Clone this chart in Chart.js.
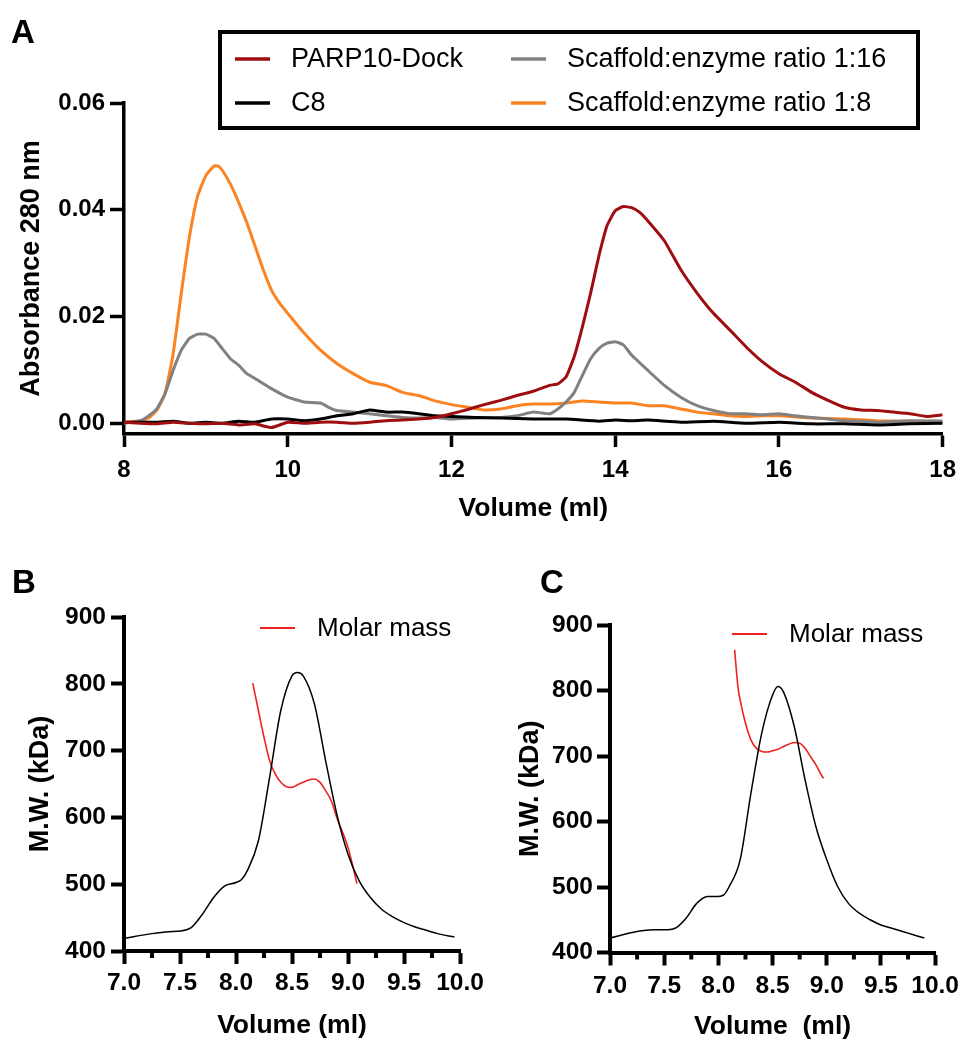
<!DOCTYPE html>
<html><head><meta charset="utf-8">
<script src="https://cdn.jsdelivr.net/npm/chart.js@4.4.1/dist/chart.umd.min.js"></script>
<style>
html,body{margin:0;padding:0;background:#fff;overflow:hidden;width:965px;height:1040px;}
.pane{position:absolute;}
</style></head><body>
<div class="pane" style="left:0;top:0;width:965px;height:540px"><canvas id="cA"></canvas></div>
<div class="pane" style="left:0;top:540px;width:540px;height:500px"><canvas id="cB"></canvas></div>
<div class="pane" style="left:480px;top:540px;width:485px;height:500px"><canvas id="cC"></canvas></div>
<script>
// ---------------- Panel A data ----------------
const seriesNamesA = ['PARP10-Dock', 'C8', 'Scaffold:enzyme ratio 1:16', 'Scaffold:enzyme ratio 1:8'];
const parpX = [8.0,8.2,8.4,8.6,8.8,9.0,9.2,9.4,9.6,9.8,10.0,10.2,10.4,10.6,10.8,11.0,11.2,11.4,11.6,11.8,12.0,12.2,12.4,12.6,12.8,13.0,13.2,13.3,13.4,13.5,13.6,13.7,13.8,13.9,14.0,14.1,14.2,14.3,14.4,14.6,14.8,15.0,15.2,15.4,15.6,15.8,16.0,16.2,16.4,16.6,16.8,17.0,17.2,17.4,17.6,17.8,18.0];
const parpY = [0.0002,0,-0.0001,0.0002,0,-0.0001,0,-0.0003,-0.0001,-0.0008,0.0002,0,0.0002,0.0002,0,0.0002,0.0005,0.0006,0.0008,0.0011,0.0018,0.0026,0.0035,0.0043,0.0052,0.006,0.0071,0.0074,0.0087,0.0125,0.0181,0.0244,0.0313,0.037,0.0398,0.0406,0.0404,0.0395,0.0379,0.0342,0.0288,0.0244,0.0206,0.0175,0.0143,0.0115,0.0093,0.0077,0.0058,0.0043,0.003,0.0025,0.0024,0.0021,0.0018,0.0013,0.0016];
const c8X = [8.0,8.4,8.6,8.8,9.0,9.2,9.4,9.6,9.8,10.0,10.2,10.4,10.6,10.8,11.0,11.2,11.4,11.6,11.8,12.0,12.3,12.6,13.0,13.4,13.8,14.0,14.2,14.4,14.8,15.2,15.6,16.0,16.4,16.8,17.2,17.6,18.0];
const c8Y = [0.0002,0.0002,0.0004,0,0.0002,0,0.0004,0.0002,0.0008,0.0008,0.0005,0.0008,0.0014,0.0018,0.0025,0.0021,0.0021,0.0018,0.0014,0.0013,0.0011,0.001,0.0008,0.0008,0.0004,0.0006,0.0005,0.0006,0.0002,0.0004,0,0.0002,-0.0001,-0.0001,-0.0003,-0.0001,0];
const r16X = [8.0,8.2,8.3,8.4,8.5,8.6,8.7,8.8,8.9,9.0,9.1,9.2,9.3,9.4,9.5,9.6,9.8,10.0,10.2,10.4,10.5,10.6,10.8,11.0,11.2,11.4,11.6,11.8,12.0,12.3,12.6,12.8,13.0,13.2,13.3,13.4,13.5,13.6,13.7,13.8,13.9,14.0,14.1,14.2,14.4,14.6,14.8,15.0,15.2,15.4,15.6,15.8,16.0,16.2,16.4,16.6,16.8,17.0,17.2,17.6,18.0];
const r16Y = [0,0.0005,0.0014,0.0027,0.0055,0.0099,0.0137,0.0159,0.0167,0.0167,0.0159,0.014,0.0121,0.0109,0.0093,0.0084,0.0065,0.0049,0.004,0.0038,0.003,0.0024,0.0021,0.0018,0.0014,0.0011,0.001,0.0011,0.0008,0.001,0.0011,0.0014,0.0021,0.0018,0.0027,0.004,0.0058,0.009,0.0121,0.014,0.015,0.0153,0.0147,0.0128,0.0099,0.0071,0.0049,0.0033,0.0024,0.0018,0.0018,0.0016,0.0018,0.0014,0.0011,0.0008,0.0005,0.0004,0.0002,0.0005,0.0004];
const r8X = [8.0,8.2,8.3,8.4,8.5,8.6,8.7,8.8,8.9,9.0,9.1,9.15,9.2,9.3,9.4,9.5,9.6,9.7,9.8,9.9,10.0,10.2,10.4,10.6,10.8,11.0,11.2,11.4,11.6,11.8,12.0,12.2,12.4,12.6,12.8,13.0,13.2,13.4,13.6,13.8,14.0,14.2,14.4,14.6,14.8,15.0,15.2,15.4,15.6,15.8,16.0,16.4,16.8,17.2,17.6,18.0];
const r8Y = [0.0002,0.0005,0.001,0.0024,0.0055,0.013,0.0244,0.035,0.0426,0.0464,0.0482,0.0482,0.0474,0.0448,0.0414,0.0376,0.0332,0.0288,0.025,0.0225,0.0206,0.0169,0.0137,0.0112,0.0093,0.0077,0.0071,0.0058,0.0052,0.0042,0.0035,0.003,0.0025,0.0027,0.0033,0.0036,0.0036,0.0038,0.0042,0.004,0.0038,0.0038,0.0033,0.0033,0.0027,0.0021,0.0018,0.0014,0.0013,0.0014,0.0014,0.001,0.0008,0.0005,0.0004,0.0004];
const yTicksA = [0, 0.02, 0.04, 0.06];

// ---------------- Panel B / C data ----------------
const bBlackX = [7.0,7.25,7.4,7.5,7.6,7.7,7.8,7.9,8.0,8.05,8.1,8.2,8.3,8.4,8.5,8.55,8.6,8.7,8.8,8.9,9.0,9.1,9.2,9.3,9.4,9.5,9.6,9.7,9.8,9.95];
const bBlackY = [419,426,429,430,435,455,480,497.5,502.5,507,520,565,660,760,812,817,812,770,685,605,545,505,480,462.5,451,442.5,436,431,426,421];
const bRedX = [8.15,8.2,8.25,8.3,8.35,8.4,8.45,8.5,8.55,8.6,8.65,8.7,8.75,8.8,8.85,8.9,9.0,9.08];
const bRedY = [801,760,720,685,665,652.5,646,645,649,652.5,656,657.5,652.5,640,625,600,555,501];
const cBlackX = [7.0,7.25,7.4,7.5,7.6,7.7,7.8,7.9,8.0,8.05,8.1,8.2,8.3,8.4,8.5,8.55,8.6,8.7,8.8,8.9,9.0,9.1,9.2,9.3,9.4,9.5,9.6,9.7,9.8,9.9];
const cBlackY = [422,432,434.6,434.6,437,452,475,485.5,485.5,488,500.8,541,643,735,793,806,798,745,663.6,592,541.5,500.8,475,460,450,442,437,432,427,422];
const cRedX = [8.15,8.18,8.2,8.25,8.3,8.35,8.4,8.45,8.5,8.55,8.6,8.65,8.7,8.75,8.8,8.85,8.9,8.95,8.97];
const cRedY = [862,806,786,750,724.7,712,707,706,708,710.4,714.5,718,720.6,719.6,712,699,686.5,671,666];
const mwTicksY = [400,500,600,700,800,900];
const mwMinorX = [7.25,7.75,8.25,8.75,9.25,9.75];
const mwSeriesName = 'Molar mass';

// ---------------- helpers ----------------
const FONT = "'Liberation Sans', Arial, Helvetica, sans-serif";
Chart.defaults.font.family = FONT;
Chart.defaults.color = '#000';
const pts = (xs, ys) => xs.map((x, i) => ({x: x, y: ys[i]}));

// ---------------- Panel A ----------------
const colorsA = ['#9e0d0f', '#000000', '#818181', '#fb8322'];
const dataA = [pts(parpX, parpY), pts(c8X, c8Y), pts(r16X, r16Y), pts(r8X, r8Y)];
const legendSlotsA = [[235, 59], [235, 103], [511, 59], [511, 103]];

const decorA = {
  id: 'decorA',
  afterDraw(chart) {
    const ctx = chart.ctx;
    ctx.save();
    ctx.fillStyle = '#000';
    ctx.font = `bold 33px ${FONT}`;
    ctx.textBaseline = 'alphabetic';
    ctx.textAlign = 'left';
    ctx.fillText('A', 11, 43);
    ctx.lineWidth = 4;
    ctx.strokeStyle = '#000';
    ctx.strokeRect(220, 32, 698, 96);
    ctx.font = `27px ${FONT}`;
    ctx.textBaseline = 'middle';
    chart.data.datasets.forEach((ds, i) => {
      const [lx, ly] = legendSlotsA[i];
      ctx.strokeStyle = ds.borderColor;
      ctx.lineWidth = 3.5;
      ctx.beginPath(); ctx.moveTo(lx, ly); ctx.lineTo(lx + 35, ly); ctx.stroke();
      ctx.fillText(ds.label, lx + 56, ly + 1);
    });
    ctx.restore();
  }
};

new Chart(document.getElementById('cA'), {
  type: 'line',
  data: {
    datasets: seriesNamesA.map((name, i) => ({
      label: name, data: dataA[i], borderColor: colorsA[i], backgroundColor: colorsA[i],
      borderWidth: 3, pointRadius: 0, tension: 0.15, fill: false
    }))
  },
  options: {
    responsive: true, maintainAspectRatio: false, animation: false,
    layout: {padding: {left: 0, top: 103, right: 16, bottom: 0}},
    plugins: {legend: {display: false}, tooltip: {enabled: false}},
    scales: {
      x: {
        type: 'linear', min: 8, max: 18,
        ticks: {stepSize: 2, padding: 9, color: '#000', font: {size: 24, weight: 'bold'}, maxRotation: 0, autoSkip: false},
        grid: {drawOnChartArea: false, drawTicks: true, tickLength: 13, tickWidth: 3.5, tickColor: '#000'},
        border: {display: true, width: 3.5, color: '#000'},
        title: {display: true, text: 'Volume (ml)', color: '#000', font: {size: 26.5, weight: 'bold', lineHeight: 1}, padding: {top: 0, bottom: 18}},
        afterFit(s) { s.height = 106; }
      },
      y: {
        type: 'linear', min: -0.002, max: 0.06,
        afterBuildTicks(s) { s.ticks = yTicksA.map(v => ({value: v})); },
        ticks: {padding: 5, color: '#000', font: {size: 24, weight: 'bold'}, callback: v => Number(v).toFixed(2)},
        grid: {drawOnChartArea: false, drawTicks: true, tickLength: 14, tickWidth: 3.5, tickColor: '#000'},
        border: {display: true, width: 3.5, color: '#000'},
        title: {display: true, text: 'Absorbance 280 nm', color: '#000', font: {size: 27, weight: 'bold', lineHeight: 1}, padding: {top: 18, bottom: 0}},
        afterFit(s) { s.width = 124; }
      }
    }
  },
  plugins: [decorA]
});

// ---------------- Panels B and C ----------------
function makeMW(id, letter, blackPts, redPts, geo) {
  const decor = {
    id: 'decor' + letter,
    afterDraw(chart) {
      const ctx = chart.ctx;
      const xs = chart.scales.x;
      ctx.save();
      // minor ticks
      ctx.strokeStyle = '#000';
      ctx.lineWidth = 4;
      mwMinorX.forEach(v => {
        const px = xs.getPixelForValue(v);
        ctx.beginPath(); ctx.moveTo(px, xs.top); ctx.lineTo(px, xs.top + 7); ctx.stroke();
      });
      // panel letter
      ctx.fillStyle = '#000';
      ctx.font = `bold 33px ${FONT}`;
      ctx.textBaseline = 'alphabetic';
      ctx.textAlign = 'left';
      ctx.fillText(letter, geo.letterX, 53);
      // legend
      const red = chart.data.datasets[1];
      ctx.strokeStyle = red.borderColor;
      ctx.lineWidth = 1.8;
      ctx.beginPath(); ctx.moveTo(geo.legX, geo.legY); ctx.lineTo(geo.legX + 35, geo.legY); ctx.stroke();
      ctx.font = `26px ${FONT}`;
      ctx.textBaseline = 'middle';
      ctx.fillText(red.label, geo.legX + 57, geo.legY + 1);
      ctx.restore();
    }
  };
  return new Chart(document.getElementById(id), {
    type: 'line',
    data: {
      datasets: [
        {label: 'UV', data: blackPts, borderColor: '#000', borderWidth: 1.5, pointRadius: 0, cubicInterpolationMode: 'monotone', fill: false},
        {label: mwSeriesName, data: redPts, borderColor: '#ee2222', borderWidth: 1.6, pointRadius: 0, cubicInterpolationMode: 'monotone', fill: false}
      ]
    },
    options: {
      responsive: true, maintainAspectRatio: false, animation: false,
      layout: {padding: {left: 0, top: geo.top, right: geo.right, bottom: 0}},
      plugins: {legend: {display: false}, tooltip: {enabled: false}},
      scales: {
        x: {
          type: 'linear', min: 7, max: 10,
          ticks: {stepSize: 0.5, padding: geo.xPad, color: '#000', font: {size: 24.5, weight: 'bold'}, maxRotation: 0, autoSkip: false, callback: v => Number(v).toFixed(1)},
          grid: {drawOnChartArea: false, drawTicks: true, tickLength: 13, tickWidth: 4, tickColor: '#000'},
          border: {display: true, width: 4, color: '#000'},
          title: {display: true, text: geo.xTitle, color: '#000', font: {size: 26.5, weight: 'bold', lineHeight: 1}, padding: {top: 0, bottom: geo.xTitlePad}},
          afterFit(s) { s.height = geo.xH; }
        },
        y: {
          type: 'linear', min: 400, max: 900,
          afterBuildTicks(s) { s.ticks = mwTicksY.map(v => ({value: v})); },
          ticks: {padding: geo.yPad, color: '#000', font: {size: 24.5, weight: 'bold'}},
          grid: {drawOnChartArea: false, drawTicks: true, tickLength: 13, tickWidth: 4, tickColor: '#000'},
          border: {display: true, width: 4, color: '#000'},
          title: {display: true, text: 'M.W. (kDa)', color: '#000', font: {size: 27, weight: 'bold', lineHeight: 1}, padding: {top: geo.yTitlePad, bottom: 0}},
          afterFit(s) { s.width = geo.yW; }
        }
      }
    },
    plugins: [decor]
  });
}

makeMW('cB', 'B', pts(bBlackX, bBlackY), pts(bRedX, bRedY),
  {top: 77, right: 80, xH: 89, yW: 124, xPad: 5, yPad: 5, xTitle: 'Volume (ml)', xTitlePad: 1.5, yTitlePad: 27.5, letterX: 12, legX: 260, legY: 88});
makeMW('cC', 'C', pts(cBlackX, cBlackY), pts(cRedX, cRedY),
  {top: 85, right: 25, xH: 87.5, yW: 130, xPad: 6, yPad: 4, xTitle: 'Volume  (ml)', xTitlePad: 0.5, yTitlePad: 37.5, letterX: 60, legX: 252, legY: 94});
</script></body></html>
